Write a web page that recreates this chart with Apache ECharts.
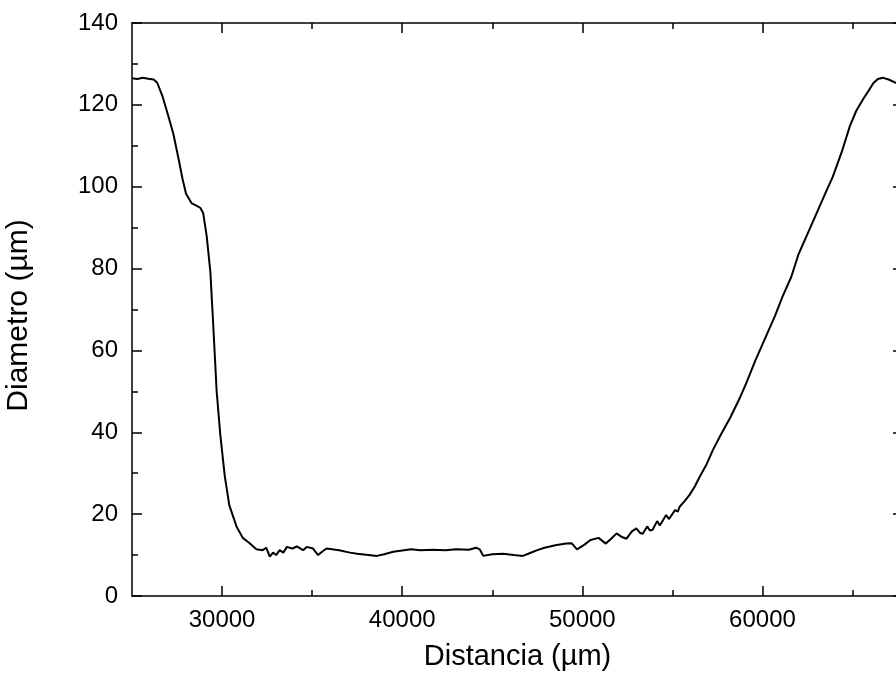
<!DOCTYPE html>
<html>
<head>
<meta charset="utf-8">
<script src="https://cdn.jsdelivr.net/npm/echarts@6/dist/echarts.min.js"></script>
<style>
html,body{margin:0;padding:0;background:#fff;}
#chart{width:896px;height:681px;}
</style>
</head>
<body>
<div id="chart"></div>
<script>
// ---- data ----
var distancia = [25000, 25300, 25600, 25900, 26200, 26400, 26700, 27000, 27300, 27600, 27800, 28000, 28300, 28600, 28800, 28950, 29150, 29350, 29500, 29700, 29900, 30150, 30400, 30800, 31150, 31500, 31900, 32250, 32450, 32650, 32830, 33000, 33200, 33400, 33600, 33900, 34150, 34500, 34700, 35050, 35330, 35600, 35800, 36500, 37100, 37500, 38000, 38600, 39000, 39500, 40000, 40500, 41000, 41700, 42400, 43000, 43700, 44100, 44300, 44500, 45000, 45600, 46200, 46700, 47100, 47500, 47900, 48500, 49100, 49400, 49700, 50100, 50450, 50900, 51300, 51600, 51900, 52200, 52450, 52750, 53000, 53200, 53350, 53600, 53750, 53900, 54150, 54300, 54400, 54650, 54800, 54900, 55150, 55300, 55400, 55700, 55950, 56250, 56500, 56900, 57250, 57700, 58200, 58700, 59100, 59600, 60200, 60700, 61100, 61600, 62000, 62500, 63000, 63500, 63900, 64400, 64850, 65200, 65600, 65900, 66150, 66400, 66700, 67000, 67400, 67800];
var diametro = [126.5, 126.3, 126.6, 126.4, 126.2, 125.4, 122.0, 117.5, 112.8, 106.5, 102.0, 98.3, 96.0, 95.3, 94.8, 93.6, 87.8, 79.2, 67.0, 50.0, 39.5, 29.3, 22.2, 17.0, 14.2, 13.0, 11.4, 11.2, 11.8, 9.6, 10.6, 10.0, 11.2, 10.6, 12.0, 11.6, 12.1, 11.2, 12.0, 11.6, 10.0, 11.0, 11.6, 11.2, 10.6, 10.3, 10.1, 9.8, 10.2, 10.8, 11.1, 11.4, 11.2, 11.3, 11.2, 11.4, 11.3, 11.8, 11.4, 9.8, 10.2, 10.3, 10.0, 9.8, 10.5, 11.2, 11.8, 12.4, 12.8, 12.9, 11.4, 12.5, 13.7, 14.2, 12.8, 14.0, 15.3, 14.4, 14.0, 15.8, 16.5, 15.4, 15.2, 17.0, 16.0, 16.2, 18.3, 17.2, 17.6, 19.8, 18.8, 19.4, 21.0, 20.6, 21.8, 23.3, 24.7, 26.8, 29.0, 32.2, 35.7, 39.5, 43.5, 48.0, 52.0, 57.5, 63.5, 68.5, 73.0, 78.0, 83.5, 88.5, 93.5, 98.5, 102.4, 108.5, 114.8, 118.5, 121.5, 123.5, 125.3, 126.3, 126.6, 126.2, 125.4, 124.8];
var xMajorTicks = [30000, 40000, 50000, 60000];
var xMinorTicks = [35000, 45000, 55000, 65000];
var xMin = 25000, xMax = 67800;
var yMin = 0, yMax = 140, yStep = 20;
var xTitle = 'Distancia (µm)';
var yTitle = 'Diametro (µm)';

var FONT = '"Liberation Sans", Arial, Helvetica, sans-serif';
var lineStyle = {color: '#000', width: 1.5};
var points = distancia.map(function (d, i) { return [d, diametro[i]]; });

function xAx(pos, ticks, len, showLine, showLabel, extra) {
  var a = {
    type: 'value', position: pos, min: xMin, max: xMax,
    axisLine: {show: showLine, onZero: false, lineStyle: lineStyle},
    axisTick: {show: true, inside: true, length: len, customValues: ticks, lineStyle: lineStyle},
    axisLabel: {show: showLabel, customValues: ticks, color: '#000', fontSize: 24, fontFamily: FONT, margin: 12,
      formatter: function (v) { return String(v); }},
    splitLine: {show: false}
  };
  if (extra) { for (var k in extra) a[k] = extra[k]; }
  return a;
}
function yAx(pos, showLabel, extra) {
  var a = {
    type: 'value', position: pos, min: yMin, max: yMax, interval: yStep,
    axisLine: {show: true, onZero: false, lineStyle: lineStyle},
    axisTick: {show: true, inside: true, length: 10, lineStyle: lineStyle},
    minorTick: {show: true, splitNumber: 2, length: 6, lineStyle: lineStyle},
    axisLabel: {show: showLabel, color: '#000', fontSize: 24, fontFamily: FONT, margin: 14,
      formatter: function (v) { return String(v); }},
    splitLine: {show: false}, minorSplitLine: {show: false}
  };
  if (extra) { for (var k in extra) a[k] = extra[k]; }
  return a;
}

var chart = echarts.init(document.getElementById('chart'), null, {renderer: 'canvas'});
chart.setOption({
  animation: false,
  backgroundColor: '#fff',
  grid: {left: 132, top: 23, width: 771, height: 573, containLabel: false, outerBoundsMode: 'none'},
  xAxis: [
    xAx('bottom', xMajorTicks, 10, true, true, {
      name: xTitle, nameLocation: 'middle', nameGap: 46,
      nameTextStyle: {color: '#000', fontSize: 29, fontFamily: FONT}
    }),
    xAx('bottom', xMinorTicks, 6, false, false),
    xAx('top', xMajorTicks, 10, true, false),
    xAx('top', xMinorTicks, 6, false, false)
  ],
  yAxis: [
    yAx('left', true, {
      name: yTitle, nameLocation: 'middle', nameGap: 98,
      nameTextStyle: {color: '#000', fontSize: 30, fontFamily: FONT, padding: [0, 12, 0, 0]}
    }),
    yAx('right', false)
  ],
  series: [{
    type: 'line', xAxisIndex: 0, yAxisIndex: 0,
    data: points, showSymbol: false, symbol: 'none',
    lineStyle: {color: '#000', width: 2}, smooth: false
  }]
});
</script>
</body>
</html>
